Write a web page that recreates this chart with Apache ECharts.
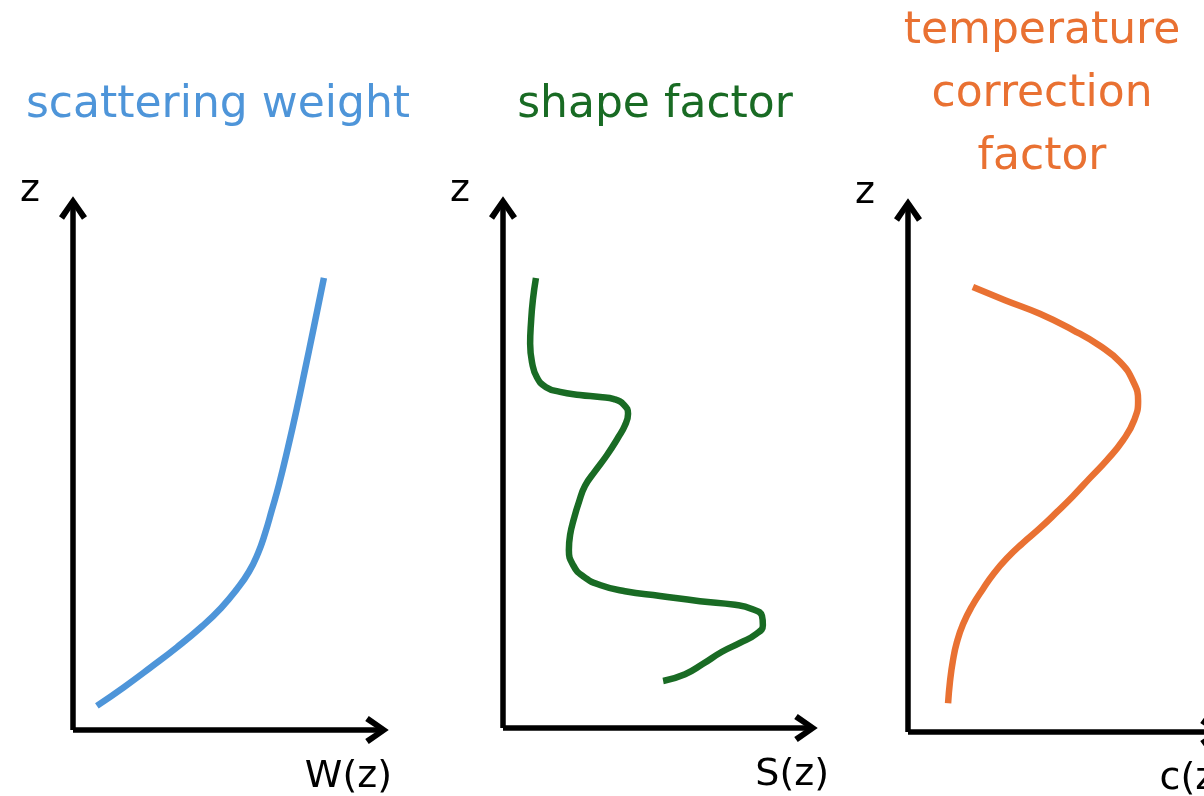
<!DOCTYPE html>
<html>
<head>
<meta charset="utf-8">
<script src="https://cdn.jsdelivr.net/npm/echarts@6/dist/echarts.min.js"></script>
<style>
  html, body { margin: 0; padding: 0; background: #ffffff; }
  #chart { width: 1204px; height: 796px; }
</style>
</head>
<body>
<div id="chart"></div>
<script>
// ---- data (normalized units, 0..100 on each axis) ----
const titles = ['scattering weight', 'shape factor', 'temperature\ncorrection\nfactor'];
const xNames = ['W(z)', 'S(z)', 'c(z)'];
const yName = 'z';

const weightX = [7.8, 16.7, 25.5, 34.0, 42.2, 48.4, 53.6, 57.5, 60.5, 62.7, 65.0, 67.3, 70.3, 73.2, 75.8, 78.4, 82.0];
const weightZ = [4.6, 8.2, 12.0, 15.8, 19.8, 23.3, 26.9, 30.2, 33.8, 37.4, 42.0, 46.8, 54.0, 61.5, 68.7, 76.0, 86.3];

const shapeX = [10.8, 9.8, 9.2, 8.9, 9.5, 11.1, 14.1, 18.7, 25.2, 31.8, 36.4, 39.7, 41.0, 40.0, 37.7, 34.1, 30.2, 26.9, 24.9, 23.3, 22.0, 21.6, 23.0, 26.2, 31.8, 40.0, 51.5, 64.6, 76.1, 81.6, 84.9, 85.2, 83.0, 77.7, 71.8, 65.6, 59.7, 52.5];
const shapeZ = [86.2, 82.0, 77.8, 73.6, 70.1, 67.2, 65.3, 64.4, 63.8, 63.4, 63.0, 61.9, 60.2, 58.0, 55.6, 52.3, 49.2, 46.4, 43.3, 40.2, 37.0, 34.1, 31.2, 29.1, 27.4, 26.2, 25.3, 24.3, 23.6, 22.8, 21.5, 19.7, 18.0, 16.3, 14.6, 12.3, 10.3, 9.0];

const tempX = [21.2, 31.7, 43.1, 53.9, 62.7, 69.3, 73.5, 75.2, 73.9, 70.3, 65.0, 59.5, 53.9, 48.7, 43.1, 37.6, 32.4, 28.1, 24.5, 20.9, 18.0, 16.0, 14.7, 13.7, 13.1];
const tempZ = [84.9, 82.4, 79.8, 76.7, 73.7, 70.6, 67.0, 63.2, 59.5, 55.7, 51.9, 48.5, 45.0, 42.0, 38.9, 36.1, 33.2, 30.3, 27.3, 24.0, 20.6, 17.2, 13.7, 9.5, 5.5];

const colors = ['#4E95D9', '#196B24', '#E97132'];

// ---- layout ----
const grids = [
  { left: 73, top: 206, width: 306, height: 524 },
  { left: 503, top: 206, width: 305, height: 522 },
  { left: 908, top: 208, width: 306, height: 524 }
];
const xNameGap = [13, 21, 16];
const titleCenters = [218, 655, 1042];

const chevron = 'path://M14,0L28,20L23,23.5L14,10L5,23.5L0,20Z';
const FONT = 'DejaVu Sans';

function zip(a, b) { return a.map((v, i) => [v, b[i]]); }
const seriesData = [zip(weightX, weightZ), zip(shapeX, shapeZ), zip(tempX, tempZ)];

const axisLineBase = {
  show: true,
  symbol: ['none', chevron],
  symbolSize: [28, 23.5],
  symbolOffset: [0, -2],
  lineStyle: { color: '#000000', width: 5.5, cap: 'butt' }
};

const option = {
  backgroundColor: '#ffffff',
  animation: false,
  title: titles.map((t, i) => ({
    text: t,
    left: titleCenters[i],
    top: i === 2 ? 0 : 81,
    textAlign: 'center',
    padding: 0,
    textStyle: {
      fontFamily: FONT,
      fontSize: 44,
      fontWeight: 'normal',
      color: colors[i],
      lineHeight: i === 2 ? 63 : 50
    }
  })),
  grid: grids.map(g => Object.assign({ containLabel: false, outerBoundsMode: 'none' }, g)),
  xAxis: grids.map((g, i) => ({
    type: 'value', gridIndex: i, min: 0, max: 100,
    axisLine: Object.assign({ onZero: false }, axisLineBase),
    axisTick: { show: false }, axisLabel: { show: false }, splitLine: { show: false },
    name: xNames[i], nameLocation: 'end', nameGap: xNameGap[i],
    nameTextStyle: {
      fontFamily: FONT, fontSize: 38, color: '#000000',
      align: 'right', verticalAlign: 'top', padding: [28, 0, 0, 0]
    }
  })),
  yAxis: grids.map((g, i) => ({
    type: 'value', gridIndex: i, min: 0, max: 100,
    axisLine: Object.assign({ onZero: false }, axisLineBase),
    axisTick: { show: false }, axisLabel: { show: false }, splitLine: { show: false },
    name: yName, nameLocation: 'end', nameGap: -4,
    nameTextStyle: {
      fontFamily: FONT, fontSize: 38, color: '#000000',
      align: 'right', verticalAlign: 'bottom', padding: [0, 33, 0, 0]
    }
  })),
  series: seriesData.map((d, i) => ({
    type: 'line', xAxisIndex: i, yAxisIndex: i,
    data: d, smooth: 0.5, showSymbol: false, symbol: 'none',
    clip: false,
    lineStyle: { color: colors[i], width: 6.5, cap: 'butt', join: 'round' }
  }))
};

const chart = echarts.init(document.getElementById('chart'), null, { renderer: 'canvas' });
chart.setOption(option);
</script>
</body>
</html>
